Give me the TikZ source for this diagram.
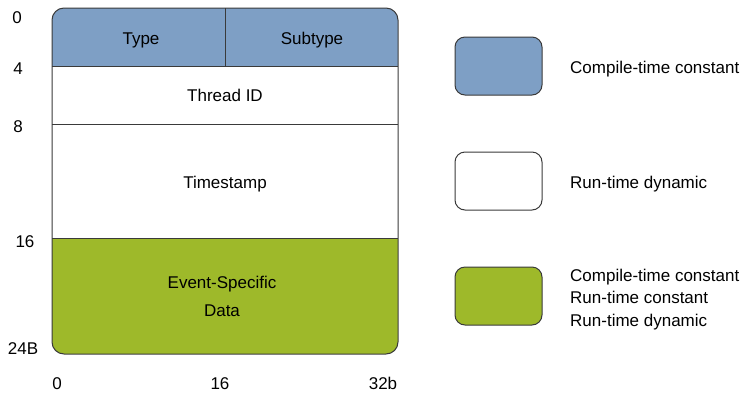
\documentclass[tikz,border=0pt]{standalone}
\usepackage{fontspec}
\setmainfont{Liberation Sans}
\definecolor{cblue}{HTML}{7E9FC5}
\definecolor{cgreen}{HTML}{9EB92A}
\definecolor{cline}{HTML}{3A3A3A}
\tikzset{
  lbl/.style={inner sep=0pt, text height=12.2pt, text depth=0pt,
              font=\fontsize{17}{21}\selectfont},
  keybox/.style={draw=cline, line width=1pt, rounded corners=10pt,
                 minimum width=87pt, minimum height=58pt, inner sep=0pt},
  frame/.style={draw=cline, line width=1pt}
}
\begin{document}
\begin{tikzpicture}[x=1pt, y=-1pt]
\useasboundingbox (0,0) rectangle (745,392);
% record layout: filled bands clipped to the rounded outline
\begin{scope}
  \clip[rounded corners=12pt] (52,8) rectangle (398,354);
  \fill[white] (52,8) rectangle (398,354);
  \fill[cblue] (52,8) rectangle (398,66);
  \fill[cgreen] (52,238) rectangle (398,354);
\end{scope}
\draw[frame, rounded corners=12pt] (52,8) rectangle (398,354);
\draw[frame] (52,66) -- (398,66);
\draw[frame] (52,124) -- (398,124);
\draw[frame] (52,238) -- (398,238);
\draw[frame] (225,8) -- (225,66);
% field names
\node[lbl] (type) at (141,38) {Type};
\node[lbl] (subtype) at (312,38) {Subtype};
\node[lbl] (tid) at (225,95) {Thread ID};
\node[lbl] (ts) at (225,182) {Timestamp};
\node[lbl] (ev) at (222,282) {Event-Specific};
\node[lbl] (data) at (222,310) {Data};
% byte offsets
\node[lbl] (o0) at (17,17) {0};
\node[lbl] (o4) at (18,68) {4};
\node[lbl] (o8) at (18,126) {8};
\node[lbl] (o16) at (25,241) {16};
\node[lbl] (o24) at (23,348) {24B};
% bit offsets
\node[lbl] (b0) at (57,383) {0};
\node[lbl] (b16) at (220,383) {16};
\node[lbl] (b32) at (383,383) {32b};
% key
\node[keybox, fill=cblue] (k1) at (498.5,66) {};
\node[keybox, fill=white] (k2) at (498.5,181) {};
\node[keybox, fill=cgreen] (k3) at (498.5,296) {};
\node[lbl, anchor=west] (t1) at (570,67) {Compile-time constant};
\node[lbl, anchor=west] (t2) at (570,182) {Run-time dynamic};
\node[lbl, anchor=west] (t3a) at (570,275) {Compile-time constant};
\node[lbl, anchor=west] (t3b) at (570,297.5) {Run-time constant};
\node[lbl, anchor=west] (t3c) at (570,320) {Run-time dynamic};
\end{tikzpicture}
\end{document}
